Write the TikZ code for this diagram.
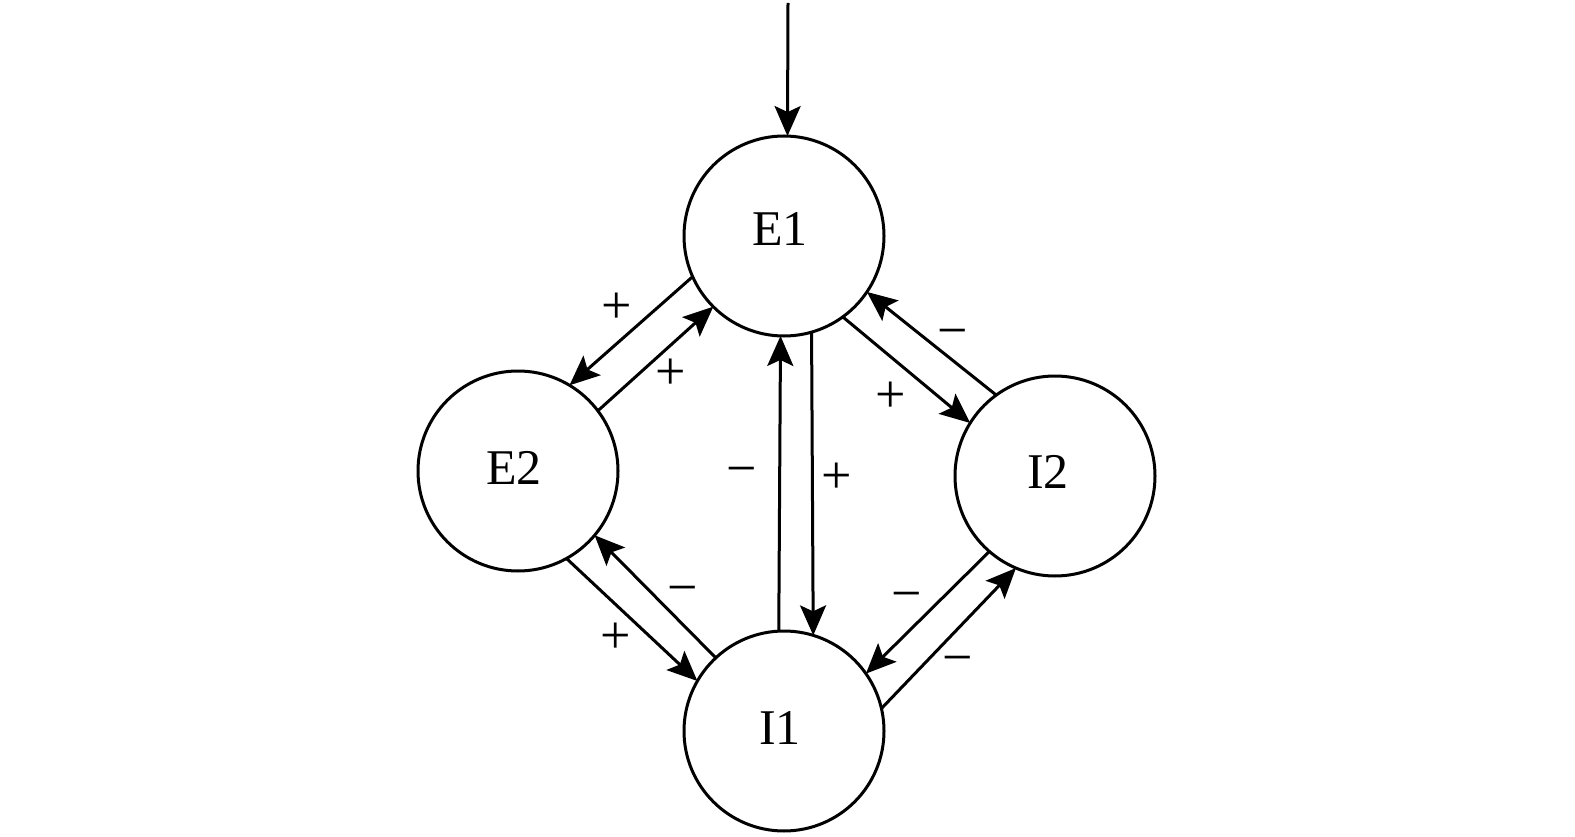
\documentclass[tikz,border=0pt]{standalone}
\usepackage{fontspec}
\setmainfont{Liberation Serif}
\usetikzlibrary{arrows.meta}
\begin{document}
\begin{tikzpicture}[x=1pt,y=-1pt,
  circ/.style={circle,draw,line width=3pt,minimum size=200pt,inner sep=0pt,outer sep=0pt},
  lbl/.style={font=\fontsize{50}{50}\selectfont,inner sep=0pt},
  sgn/.style={font=\fontsize{54}{54}\selectfont,inner sep=0pt},
  con/.style={line width=3pt,-{Stealth[length=30pt,width=26pt,inset=6pt]}}]
\useasboundingbox (0,0) rectangle (1575,837);
\node[circ] (E1) at (784,236) {};
\node[circ] (E2) at (518,471) {};
\node[circ] (I2) at (1055,476) {};
\node[circ] (I1) at (784,731) {};
\node[lbl] (E1t) at (780,229) {E1};
\node[lbl] (E2t) at (514,468) {E2};
\node[lbl] (I2t) at (1048,472) {I2};
\node[lbl] (I1t) at (780,728) {I1};
\coordinate (top) at (788,3);
\draw[con] (top) -- (E1.88);
% E1 <-> E2
\draw[con] (E1.204) -- (E2.59);
\draw[con] (E2.37) -- (E1.225);
% E1 <-> I2
\draw[con] (E1.306) -- (I2.148);
\draw[con] (I2.126) -- (E1.326);
% E1 <-> I1
\draw[con] (E1.286) -- (I1.73);
\draw[con] (I1.93) -- (E1.268);
% E2 <-> I1
\draw[con] (E2.299) -- (I1.150);
\draw[con] (I1.133) -- (E2.320);
% I2 <-> I1
\draw[con] (I2.229) -- (I1.35);
\draw[con] (I1.13) -- (I2.247);
% signs
\node[sgn] (s1) at (617,308) {+};
\node[sgn] (s2) at (671,374) {+};
\node[sgn] (s3) at (953,339) {−};
\node[sgn] (s4) at (891,397) {+};
\node[sgn] (s5) at (742,477) {−};
\node[sgn] (s6) at (837,478) {+};
\node[sgn] (s7) at (683,596) {−};
\node[sgn] (s8) at (616,638) {+};
\node[sgn] (s9) at (907,602) {−};
\node[sgn] (s10) at (958,666) {−};
\end{tikzpicture}
\end{document}
